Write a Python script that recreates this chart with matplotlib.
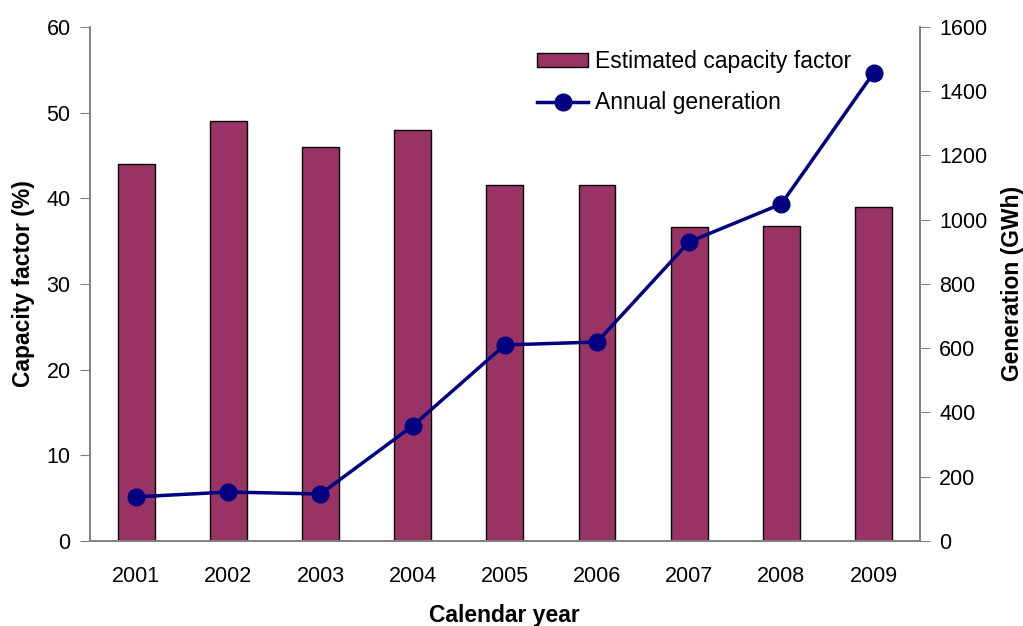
import numpy as np
import matplotlib.pyplot as plt

plt.rcParams['font.family'] = ['Liberation Sans', 'DejaVu Sans']

years = ['2001', '2002', '2003', '2004', '2005', '2006', '2007', '2008', '2009']
capacity_factor = [44.0, 49.0, 46.0, 48.0, 41.5, 41.5, 36.6, 36.8, 39.0]
generation = [137, 152, 146, 358, 610, 619, 931, 1049, 1457]

bar_color = '#993366'
line_color = '#000080'
axis_grey = '#808080'

fig = plt.figure(figsize=(10.23, 6.26), dpi=100)
ax = fig.add_axes([0.088, 0.136, 0.811, 0.821])
x = np.arange(len(years))

bars = ax.bar(x, capacity_factor, width=0.4, color=bar_color, edgecolor='black',
              linewidth=1.0, label='Estimated capacity factor', zorder=2)
ax.set_xlim(-0.5, len(years) - 0.5)
ax.set_ylim(0, 60)
ax.set_yticks(range(0, 61, 10))
ax.set_xticks(x)
ax.set_xticklabels(years)
ax.tick_params(axis='x', length=0, labelsize=15.5, pad=18)
ax.tick_params(axis='y', direction='out', length=7, color=axis_grey, labelsize=15.5, pad=7)
ax.set_ylabel('Capacity factor (%)', fontsize=16.5, fontweight='bold', labelpad=8)
ax.set_xlabel('Calendar year', fontsize=16.5, fontweight='bold', labelpad=12)

ax2 = ax.twinx()
line, = ax2.plot(x, generation, color=line_color, linewidth=2.5, marker='o',
                 markersize=12, label='Annual generation', zorder=3)
ax2.set_ylim(0, 1600)
ax2.set_yticks(range(0, 1601, 200))
ax2.tick_params(axis='y', direction='out', length=7, color=axis_grey, labelsize=15.5, pad=7)
ax2.set_ylabel('Generation (GWh)', fontsize=16.5, fontweight='bold', labelpad=10)

for a in (ax, ax2):
    a.spines['top'].set_visible(False)
    for s in ('left', 'right', 'bottom'):
        a.spines[s].set_color(axis_grey)
        a.spines[s].set_linewidth(1.2)

leg = ax2.legend([bars, line], ['Estimated capacity factor', 'Annual generation'],
                 loc='upper right', bbox_to_anchor=(0.942, 0.995), frameon=False,
                 fontsize=16.5, handlelength=2.2, handleheight=0.6, handletextpad=0.3,
                 labelspacing=0.8)

fig.savefig('out.png', dpi=100)
